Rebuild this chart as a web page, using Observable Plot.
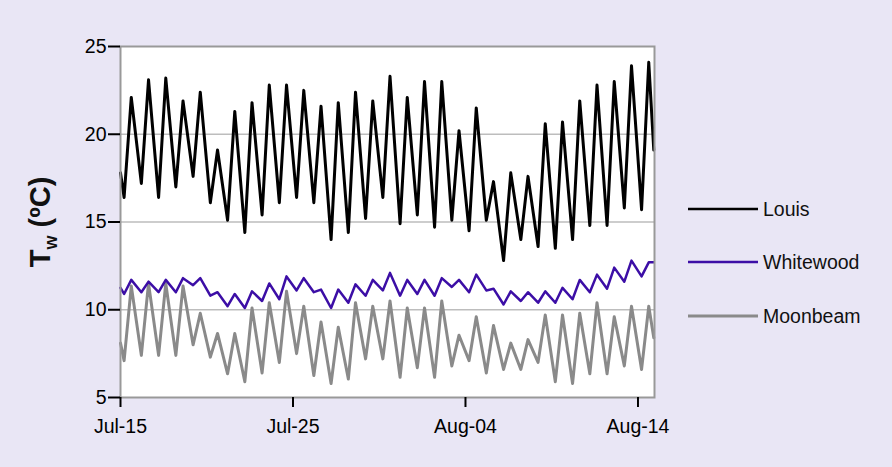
<!DOCTYPE html>
<html><head><meta charset="utf-8">
<script src="https://cdn.jsdelivr.net/npm/d3@7"></script>
<script src="https://cdn.jsdelivr.net/npm/@observablehq/plot@0.6"></script>
<style>
html,body{margin:0;padding:0;background:#e9e6f5;}
#wrap{position:relative;width:892px;height:467px;overflow:hidden;}
</style></head><body><div id="wrap"></div>
<script>
// ---- data ----
const startDay = "2019-07-15";
const seriesNames = ["Louis", "Whitewood", "Moonbeam"];
const seriesColors = ["#000000", "#3c0ea6", "#8a8a8a"];

// daily minima (early morning) and maxima (afternoon), Jul-15 .. Aug-14
const louisMin = [16.4,17.2,16.4,17.0,17.6,16.1,15.1,14.4,15.4,16.1,16.4,16.1,14.0,14.4,15.2,16.4,14.9,15.4,14.7,15.1,14.5,15.1,12.8,14.0,13.6,13.5,14.0,14.8,14.8,15.8,15.7];
const louisMax = [22.1,23.1,23.2,21.9,22.4,19.1,21.3,21.8,22.8,22.8,22.5,21.6,21.8,22.4,21.9,23.3,22.1,23.0,23.0,20.2,21.5,17.3,17.8,17.6,20.6,20.7,21.9,22.8,23.0,23.9,24.1];
const whitewoodMin = [10.9,11.0,11.0,11.0,11.4,10.8,10.2,10.1,10.5,10.6,11.1,11.0,10.1,10.4,10.8,11.1,10.8,10.9,10.8,11.3,11.0,11.1,10.3,10.5,10.4,10.4,10.6,11.0,11.2,11.6,11.9];
const whitewoodMax = [11.7,11.6,11.7,11.8,11.8,11.0,10.9,11.05,11.5,11.9,11.8,11.15,11.15,11.45,11.7,12.1,11.7,11.7,11.8,11.7,12.0,11.2,11.05,11.0,11.05,11.25,11.7,12.0,12.4,12.8,12.7];
const moonbeamMin = [7.1,7.4,7.4,7.4,8.0,7.3,6.35,5.9,6.4,7.0,7.5,6.25,5.8,6.05,7.2,7.2,6.15,6.7,6.15,6.8,7.1,6.4,6.6,6.6,7.0,5.9,5.8,6.35,6.35,6.8,6.6];
const moonbeamMax = [11.35,11.5,11.5,11.35,9.8,8.65,8.65,10.1,10.4,11.05,10.2,9.3,9.0,10.4,10.2,10.5,10.1,10.1,10.5,8.55,9.6,9.1,8.1,8.3,9.7,9.7,9.8,10.4,9.6,10.2,10.2];
const startValues = [17.8, 11.25, 8.1];
const endValues = [19.1, 12.7, 8.4];
const minHour = 5, maxHour = 15, endHour = 22;

const yTicks = [5, 10, 15, 20, 25];
const gridValues = [10, 15, 20];
const xTickLabels = ["Jul-15", "Jul-25", "Aug-04", "Aug-14"];
const yTitle = {main: "T", sub: "w", rest: " (ºC)"};

// ---- build table ----
const day0 = new Date(startDay + "T00:00:00Z");
const hour = (d, h) => new Date(day0.getTime() + (d * 24 + h) * 3600e3);
const mins = [louisMin, whitewoodMin, moonbeamMin];
const maxs = [louisMax, whitewoodMax, moonbeamMax];
const rows = [];
seriesNames.forEach((name, i) => {
  rows.push({series: name, date: hour(0, 0), value: startValues[i]});
  mins[i].forEach((v, d) => {
    rows.push({series: name, date: hour(d, minHour), value: v});
    rows.push({series: name, date: hour(d, maxHour), value: maxs[i][d]});
  });
  rows.push({series: name, date: hour(mins[i].length - 1, endHour), value: endValues[i]});
});
const parseTick = d3.utcParse("%Y-%b-%d");
const xTicks = xTickLabels.map(l => parseTick("2019-" + l));
const xDomain = [hour(0, 0), hour(30, 23)];

const widths = {Louis: 3, Whitewood: 2.5, Moonbeam: 3};
const drawOrder = ["Moonbeam", "Whitewood", "Louis"];

const chart = Plot.plot({
  width: 892, height: 467,
  marginLeft: 120, marginRight: 238, marginTop: 46, marginBottom: 70,
  style: {background: "transparent", fontFamily: "'Liberation Sans', Arial, sans-serif", fontSize: "19.5px", color: "black"},
  x: {type: "utc", domain: xDomain},
  y: {domain: [5, 25]},
  marks: [
    Plot.frame({fill: "white"}),
    Plot.ruleY(gridValues, {stroke: "#bdbdbd", strokeWidth: 1.5}),
    ...drawOrder.map(name => Plot.line(rows.filter(r => r.series === name), {
      x: "date", y: "value",
      stroke: seriesColors[seriesNames.indexOf(name)],
      strokeWidth: widths[name], strokeLinejoin: "round"
    })),
    Plot.frame({stroke: "#999999", strokeWidth: 2}),
    Plot.axisX({ticks: xTicks, tickFormat: (d, i) => xTickLabels[i], tickSize: 10, tickPadding: 12, label: null, strokeWidth: 2}),
    Plot.axisY({ticks: yTicks, tickSize: 12, tickPadding: 2, label: null, strokeWidth: 2})
  ]
});
document.getElementById("wrap").appendChild(chart);

// ---- y title with subscript ----
const svg = d3.select(chart);
const t = svg.append("text")
  .attr("transform", "translate(50,222) rotate(-90)")
  .attr("text-anchor", "middle")
  .attr("font-family", "'Liberation Sans', Arial, sans-serif")
  .attr("font-weight", "bold")
  .attr("font-size", 29)
  .attr("fill", "#111");
t.append("tspan").text(yTitle.main);
t.append("tspan").attr("font-size", 18).attr("dy", 7).text(yTitle.sub);
t.append("tspan").attr("dy", -7).text(yTitle.rest);

// ---- legend ----
const legendY = [209, 262, 316];
const legendW = [2.5, 2.5, 3];
const lg = svg.append("g")
  .attr("font-family", "'Liberation Sans', Arial, sans-serif")
  .attr("font-size", 19.5)
  .attr("text-anchor", "start");
seriesNames.forEach((name, i) => {
  lg.append("line").attr("x1", 688).attr("x2", 758).attr("y1", legendY[i]).attr("y2", legendY[i])
    .attr("stroke", seriesColors[i]).attr("stroke-width", legendW[i]);
  lg.append("text").attr("x", 763).attr("y", legendY[i]).attr("dy", "0.35em")
    .attr("text-anchor", "start").attr("fill", "#111").text(name);
});
</script>
</body></html>
